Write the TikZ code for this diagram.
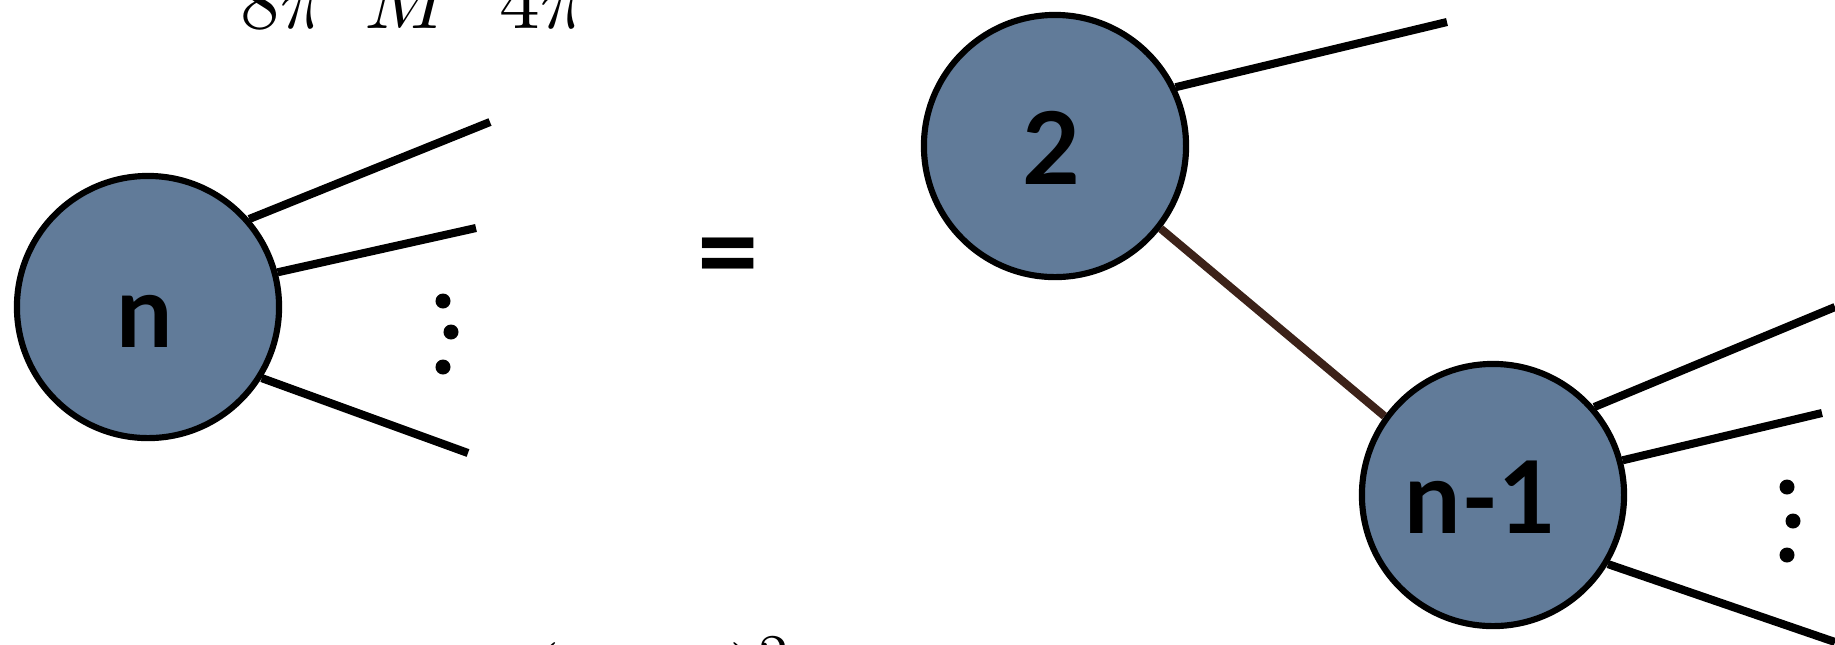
\documentclass[tikz,border=0pt]{standalone}
\usepackage{fontspec}
\newfontfamily\labelfont{Lato}
\definecolor{blobfill}{HTML}{617B99}
\definecolor{linkbrown}{HTML}{3C2219}
\begin{document}
\begin{tikzpicture}[x=0.01cm,y=-0.01cm,
  blob/.style={circle, draw=black, line width=1.75pt, fill=blobfill, minimum size=2.62cm, inner sep=0},
  leg/.style={line width=2.3pt, draw=black},
  link/.style={line width=2.3pt, draw=linkbrown},
  dotmark/.style={circle, fill=black, inner sep=0, minimum size=0.15cm},
  lbl/.style={font=\labelfont\bfseries\fontsize{28.5}{34}\selectfont, anchor=base, inner sep=0},
  mathtxt/.style={anchor=base west, inner sep=0}]
\useasboundingbox (0,0) rectangle (1835,644);
\clip (0,0) rectangle (1835,644);

% partly cut-off formula pieces
\node[mathtxt] (t1) at (240,28) {\resizebox{0.87cm}{!}{$8\pi$}};
\node[mathtxt] (t2) at (364,28) {\resizebox{0.88cm}{!}{$M$}};
\node[mathtxt] (t3) at (499,28) {\resizebox{0.90cm}{!}{$4\pi$}};
\node[mathtxt] (t4) at (530,699) {\resizebox{2.62cm}{!}{$(M\hskip1.15em)^2$}};

% blobs
\node[blob] (n) at (148,307) {};
\node[blob] (c2) at (1055,146) {};
\node[blob] (m) at (1493,495) {};

\node[lbl] (ln) at (145,347) {n};
\node[lbl] (l2) at (1052,184) {2};
\node[lbl] (lm) at (1481,533) {n-1};

\node[font=\labelfont\bfseries\fontsize{33}{38}\selectfont, inner sep=0] (eq) at (728,265) {=};

% free ends
\coordinate (a1) at (490,122);
\coordinate (a2) at (476,228);
\coordinate (a3) at (468,453);
\coordinate (b1) at (1447,22);
\coordinate (e1) at (1835,307);
\coordinate (e2) at (1822,413);
\coordinate (e3) at (1835,642);

\draw[leg] (n.41) -- (a1);
\draw[leg] (n.15) -- (a2);
\draw[leg] (n.-32) -- (a3);
\draw[leg] (c2.26) -- (b1);
\draw[link] (c2.-38) -- (m.144);
\draw[leg] (m.41) -- (e1);
\draw[leg] (m.15) -- (e2);
\draw[leg] (m.-31) -- (e3);

% dots
\node[dotmark] (d1) at (443,301) {};
\node[dotmark] (d2) at (451,332) {};
\node[dotmark] (d3) at (443,367) {};
\node[dotmark] (d4) at (1787,487) {};
\node[dotmark] (d5) at (1793,521) {};
\node[dotmark] (d6) at (1787,555) {};
\end{tikzpicture}
\end{document}
